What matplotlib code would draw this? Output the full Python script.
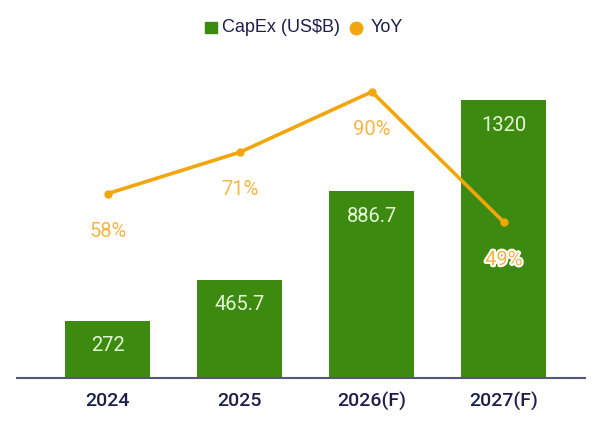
import matplotlib.pyplot as plt
import matplotlib.patheffects as pe

years = ['2024', '2025', '2026(F)', '2027(F)']
capex = [272, 465.7, 886.7, 1320]
yoy = [58, 71, 90, 49]
capex_labels = ['272', '465.7', '886.7', '1320']
yoy_labels = ['58%', '71%', '90%', '49%']

green = '#3d8a10'
orange = '#f2a60c'
orange_txt = '#f4b647'
navy = '#1b1f4b'

plt.rcParams['font.family'] = ['Roboto', 'DejaVu Sans']

fig = plt.figure(figsize=(6, 4.24), dpi=100)
ax = fig.add_axes([0.028, 0.1085, 0.947, 0.75])
x = list(range(len(years)))

bars = ax.bar(x, capex, width=0.645, color=green, zorder=2)
for xi, v, lab in zip(x, capex, capex_labels):
    ax.annotate(lab, (xi, v), xytext=(0, -18), textcoords='offset points',
                ha='center', va='center', fontsize=14.5, color='#e4f7d6',
                zorder=5)

ax.set_xlim(-0.69, 3.615)
ax.set_ylim(0, 1510)
ax.set_yticks([])
for s in ['top', 'right', 'left']:
    ax.spines[s].set_visible(False)
ax.spines['bottom'].set_color('#55577a')
ax.spines['bottom'].set_linewidth(1.5)
ax.set_xticks(x)
ax.set_xticklabels(years, fontsize=14, color=navy, fontweight='medium')
ax.tick_params(axis='x', length=0, pad=10)

ax2 = ax.twinx()
ax2.set_ylim(0, 100)
ax2.set_yticks([])
for s in ax2.spines.values():
    s.set_visible(False)
ax2.plot(x, yoy, color=orange, lw=2.6, marker='o', ms=5, zorder=4)
for xi, v, lab in zip(x, yoy, yoy_labels):
    t = ax2.annotate(lab, (xi, v), xytext=(0, -27), textcoords='offset points',
                     ha='center', va='center', fontsize=14.5, color=orange_txt,
                     zorder=6)
    if lab == '49%':
        t.set_path_effects([pe.withStroke(linewidth=3, foreground='white')])

# legend
fig.patches.append(plt.Rectangle((0.342, 0.921), 0.02, 0.028, color=green,
                                 transform=fig.transFigure, figure=fig))
fig.text(0.37, 0.935, 'CapEx (US$B)', fontsize=13, color=navy,
         ha='left', va='center', family=['Liberation Sans'])
fig.lines.append(plt.Line2D([0.593], [0.935], marker='o', ms=9, color=orange,
                            transform=fig.transFigure, figure=fig))
fig.text(0.617, 0.935, 'YoY', fontsize=13, color=navy,
         ha='left', va='center', family=['Liberation Sans'])

fig.savefig('out.png', dpi=100)
